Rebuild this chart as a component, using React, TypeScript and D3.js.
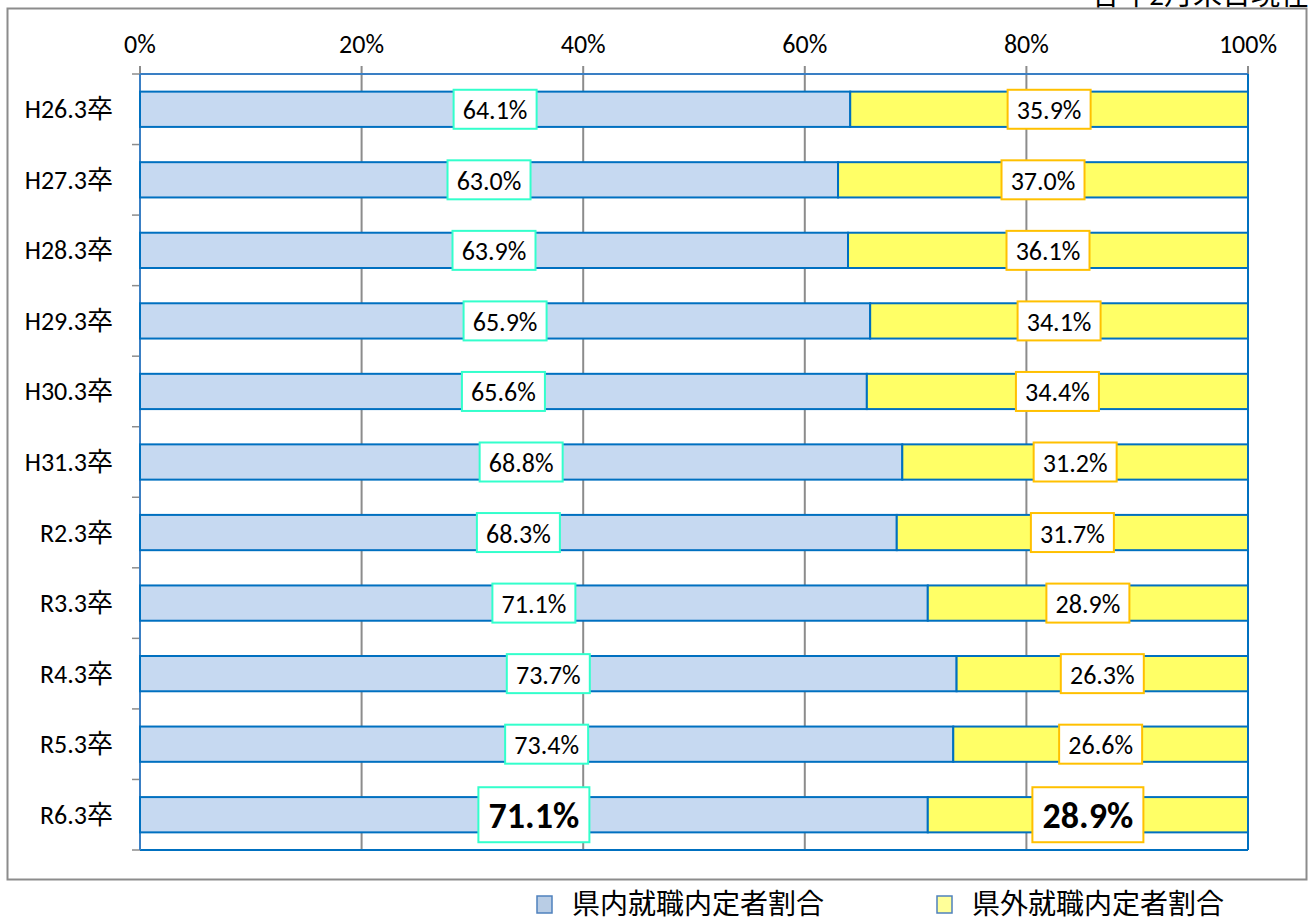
import React from 'react';
import * as d3 from 'd3';

const categories = ['H26.3卒', 'H27.3卒', 'H28.3卒', 'H29.3卒', 'H30.3卒', 'H31.3卒', 'R2.3卒', 'R3.3卒', 'R4.3卒', 'R5.3卒', 'R6.3卒'];
const inPref = [64.1, 63.0, 63.9, 65.9, 65.6, 68.8, 68.3, 71.1, 73.7, 73.4, 71.1];
const outPref = [35.9, 37.0, 36.1, 34.1, 34.4, 31.2, 31.7, 28.9, 26.3, 26.6, 28.9];
const xTicks = [0, 20, 40, 60, 80, 100];
const seriesNames = ['県内就職内定者割合', '県外就職内定者割合'];

const W = 1309;
const H = 921;
const left = 140;
const right = 1248;
const top = 74;
const bottom = 850;
const font = 'Calibri, Carlito, "Open Sans", "Noto Sans CJK JP", sans-serif';

const App = () => {
  const x = d3.scaleLinear().domain([0, 100]).range([left, right]);
  const y = d3.scaleBand().domain(categories).range([top, bottom]).paddingInner(0.5).paddingOuter(0.25);
  const boundaries = d3.range(categories.length + 1).map(i => top + (bottom - top) * i / categories.length);

  const label = (cx: number, cy: number, text: string, stroke: string, big: boolean, key: string) => {
    const w = big ? 111 : 83;
    const h = big ? 55 : 39;
    return (
      <g key={key}>
        <rect x={cx - w / 2} y={cy - h / 2} width={w} height={h} fill="#fff" stroke={stroke} strokeWidth={2} />
        <text x={cx} y={cy + 1} textAnchor="middle" dominantBaseline="central" fontSize={big ? 36 : 26}
          fontWeight={big ? 'bold' : 'normal'} fontFamily={font}>{text}</text>
      </g>
    );
  };

  return (
    <svg width={W} height={H} style={{ position: 'fixed', left: 0, top: 0, background: '#fff' }}>
      <rect x={7.5} y={8.5} width={1299} height={871} fill="#fff" stroke="#8c8c8c" strokeWidth={2} />
      {/* note text sits mostly above the visible page, as in the original */}
      <text x={1309} y={5} textAnchor="end" fontSize={29} fontFamily={font}>各年2月末日現在</text>

      {/* gridlines + top ticks */}
      {xTicks.map(t => (
        <g key={t}>
          <line x1={x(t)} x2={x(t)} y1={66} y2={bottom} stroke="#8c8c8c" strokeWidth={2} />
          <text x={x(t)} y={44} textAnchor="middle" dominantBaseline="central" fontSize={26} fontFamily={font}>{t}%</text>
        </g>
      ))}

      {/* category ticks */}
      {boundaries.map((b, i) => (
        <line key={i} x1={132} x2={left} y1={b} y2={b} stroke="#8c8c8c" strokeWidth={1.5} />
      ))}

      <line x1={left} x2={right} y1={top} y2={top} stroke="#3a7fc4" strokeWidth={2} />
      <line x1={left} x2={right} y1={bottom} y2={bottom} stroke="#0070c0" strokeWidth={2} />
      <line x1={right} x2={right} y1={top} y2={bottom} stroke="#0070c0" strokeWidth={2} />
      <line x1={left} x2={left} y1={top} y2={bottom} stroke="#3a7fc4" strokeWidth={2} />

      {categories.map((c, i) => {
        const by = y(c)!;
        const bh = y.bandwidth();
        return (
          <g key={c}>
            <rect x={x(0)} y={by} width={x(inPref[i]) - x(0)} height={bh} fill="#c6d9f1" stroke="#0070c0" strokeWidth={2} />
            <rect x={x(inPref[i])} y={by} width={x(inPref[i] + outPref[i]) - x(inPref[i])} height={bh} fill="#ffff66" stroke="#0070c0" strokeWidth={2} />
            <text x={113} y={by + bh / 2} textAnchor="end" dominantBaseline="central" fontSize={26} fontFamily={font}>{c}</text>
          </g>
        );
      })}

      {categories.map((c, i) => {
        const cy = y(c)! + y.bandwidth() / 2;
        const big = i === categories.length - 1;
        return (
          <g key={'l' + c}>
            {label(x(inPref[i] / 2), cy, inPref[i].toFixed(1) + '%', '#33ffcc', big, 'a')}
            {label(x(inPref[i] + outPref[i] / 2), cy, outPref[i].toFixed(1) + '%', '#ffc000', big, 'b')}
          </g>
        );
      })}

      {/* legend */}
      <rect x={537} y={896} width={15} height={17} fill="#b9cde5" stroke="#4f81bd" strokeWidth={1.5} />
      <text x={572} y={904} dominantBaseline="central" fontSize={28} fontFamily={font}>{seriesNames[0]}</text>
      <rect x={937} y={896} width={15} height={17} fill="#ffff99" stroke="#4f81bd" strokeWidth={1.5} />
      <text x={972} y={904} dominantBaseline="central" fontSize={28} fontFamily={font}>{seriesNames[1]}</text>
    </svg>
  );
};

export default App;
